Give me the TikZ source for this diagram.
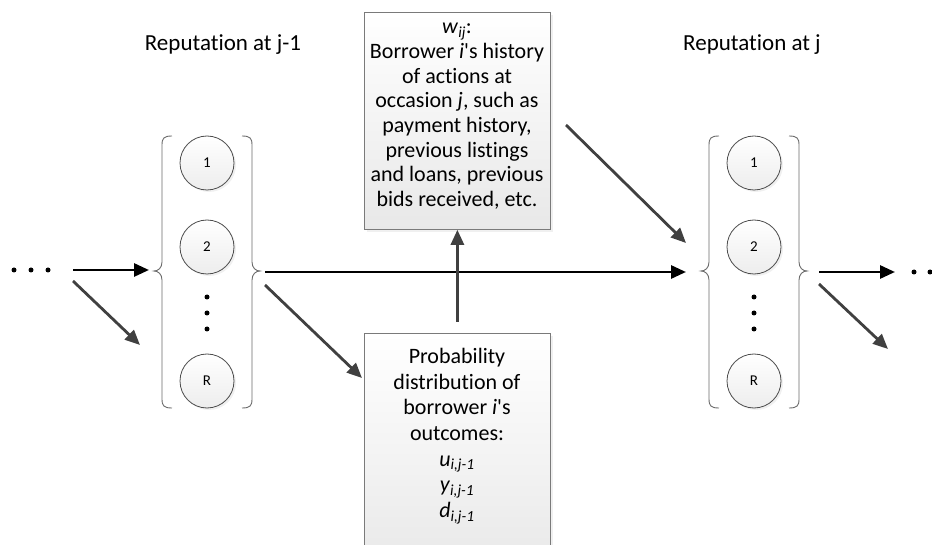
\documentclass[tikz,border=0pt]{standalone}
\usepackage{fontspec}
\setmainfont{Carlito}[Ligatures=NoCommon]
\usetikzlibrary{arrows.meta,shadows}
\definecolor{arrowgray}{HTML}{404040}
\definecolor{bracegray}{HTML}{6A6A6A}
\definecolor{bordergray}{HTML}{7A7A7A}
\newcommand{\apos}{\textquotesingle}
\begin{document}
\begin{tikzpicture}[x=1pt,y=-1pt,
  state/.style={circle, draw=black!70, line width=0.8pt, minimum size=54pt, inner sep=0pt,
    top color=white, bottom color=black!7,
    drop shadow={shadow xshift=2pt, shadow yshift=-2pt, opacity=0.12},
    font=\fontsize{15}{17}\selectfont},
  infobox/.style={rectangle, draw=bordergray, line width=0.8pt, top color=white, bottom color=black!9,
    drop shadow={shadow xshift=3pt, shadow yshift=-3pt, opacity=0.12}, inner sep=0pt},
  boxtext/.style={align=center, inner sep=0pt},
  title/.style={font=\fontsize{23}{27}\selectfont},
  blackarrow/.style={-{Triangle[length=15pt,width=13pt]}, line width=2.8pt, black},
  grayarrow/.style={-{Triangle[length=15pt,width=13pt]}, line width=2.8pt, arrowgray},
  bracestyle/.style={draw=bracegray, line width=0.9pt},
  dot/.style={circle, fill=black, inner sep=0pt, minimum size=5pt}
]
\useasboundingbox (0,0) rectangle (932,545);
\clip (0,0) rectangle (932,545);

% titles
\node[title] (t1) at (223,45) {Reputation at j-1};
\node[title] (t2) at (752,45) {Reputation at j};

% left group
\node[state] (a1) at (207,163) {1};
\node[state] (a2) at (207,247) {2};
\node[state] (aR) at (207,381) {R};
\node[dot] (ad1) at (207,297) {};
\node[dot] (ad2) at (207,313) {};
\node[dot] (ad3) at (207,329) {};
\draw[bracestyle] (172,136) .. controls (164,136) and (162,138) .. (162,145) -- (162,262)
  .. controls (162,268) and (158,271) .. (154,271) .. controls (158,271) and (162,274) .. (162,280)
  -- (162,399) .. controls (162,406) and (164,408) .. (172,408);
\draw[bracestyle] (242,136) .. controls (250,136) and (252,138) .. (252,145) -- (252,262)
  .. controls (252,268) and (256,271) .. (260,271) .. controls (256,271) and (252,274) .. (252,280)
  -- (252,399) .. controls (252,406) and (250,408) .. (242,408);

% right group
\node[state] (b1) at (754,163) {1};
\node[state] (b2) at (754,247) {2};
\node[state] (bR) at (754,381) {R};
\node[dot] (bd1) at (754,297) {};
\node[dot] (bd2) at (754,313) {};
\node[dot] (bd3) at (754,329) {};
\draw[bracestyle] (719,136) .. controls (711,136) and (709,138) .. (709,145) -- (709,262)
  .. controls (709,268) and (705,271) .. (701,271) .. controls (705,271) and (709,274) .. (709,280)
  -- (709,399) .. controls (709,406) and (711,408) .. (719,408);
\draw[bracestyle] (789,136) .. controls (797,136) and (799,138) .. (799,145) -- (799,262)
  .. controls (799,268) and (803,271) .. (807,271) .. controls (803,271) and (799,274) .. (799,280)
  -- (799,399) .. controls (799,406) and (797,408) .. (789,408);

% ellipsis dots
\node[dot] (ld1) at (14,270) {};
\node[dot] (ld2) at (31,270) {};
\node[dot] (ld3) at (48,270) {};
\node[dot] (rd1) at (914,272) {};
\node[dot] (rd2) at (930,272) {};

% boxes
\node[infobox, minimum width=186pt, minimum height=217pt, anchor=north west] (hist) at (364,12) {};
\node[boxtext, anchor=north, font=\fontsize{22}{24.7}\selectfont] (histtext) at (457,23)
  {\textit{w}\textsubscript{\textit{ij}}:\\ Borrower \textit{i}\apos s history\\ of actions at\\
   occasion \textit{j}, such as\\ payment history,\\ previous listings\\ and loans, previous\\ bids received, etc.};
\node[infobox, minimum width=186pt, minimum height=240pt, anchor=north west] (prob) at (364,333) {};
\node[boxtext, anchor=north, font=\fontsize{22}{25.7}\selectfont] (probtext) at (457,348)
  {Probability\\ distribution of\\ borrower \textit{i}\apos s\\ outcomes:\\
   \textit{u}\textsubscript{\textit{i,j-1}}\\ \textit{y}\textsubscript{\textit{i,j-1}}\\ \textit{d}\textsubscript{\textit{i,j-1}}};

% connector endpoints
\coordinate (lin0) at (73,270);  \coordinate (lin1) at (149,270);
\coordinate (ldg0) at (73,281);  \coordinate (ldg1) at (140,345);
\coordinate (m0) at (265,272);   \coordinate (m1) at (686,272);
\coordinate (pd0) at (265,285);  \coordinate (pd1) at (362,378);
\coordinate (hd0) at (566,125);  \coordinate (hd1) at (686,243);
\coordinate (rout0) at (819,272); \coordinate (rout1) at (895,272);
\coordinate (rdg0) at (819,284); \coordinate (rdg1) at (888,349);

\draw[blackarrow] (lin0) -- (lin1);
\draw[grayarrow] (ldg0) -- (ldg1);
\draw[blackarrow] (m0) -- (m1);
\draw[grayarrow] (pd0) -- (pd1);
\draw[grayarrow] (hd0) -- (hd1);
\draw[blackarrow] (rout0) -- (rout1);
\draw[grayarrow] (rdg0) -- (rdg1);
\draw[grayarrow] ([yshift=11pt]prob.north) -- (hist.south);
\end{tikzpicture}
\end{document}
